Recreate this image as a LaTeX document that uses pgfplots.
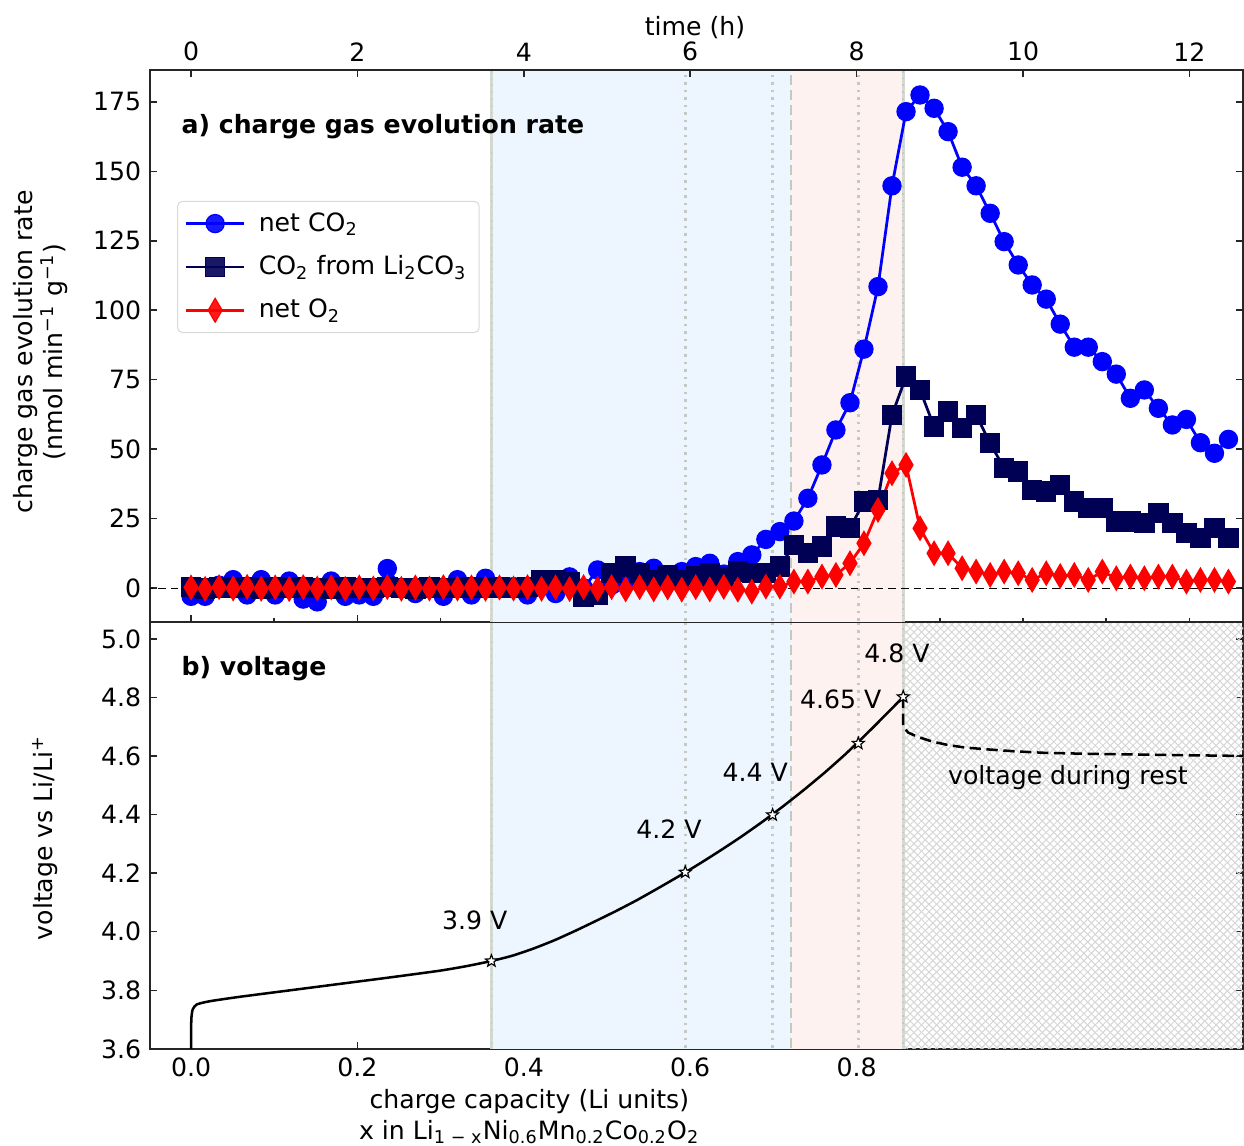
\documentclass[border=0pt]{standalone}
\usepackage{fontspec}
\setmainfont{DejaVu Sans}
\usepackage{pgfplots}
\pgfplotsset{compat=1.18}
\usepackage{pgfplotstable}
\usetikzlibrary{patterns}

\definecolor{navyc}{RGB}{0,0,85}
\definecolor{shadeblue}{RGB}{237,245,255}
\definecolor{shadered}{RGB}{254,242,240}
\definecolor{vlinec}{RGB}{212,218,210}
\definecolor{vdotc}{RGB}{196,202,194}

\pgfdeclareplotmark{ostar}{%
  \pgfpathmoveto{\pgfpointpolar{90}{\pgfplotmarksize}}%
  \pgfpathlineto{\pgfpointpolar{126}{0.42\pgfplotmarksize}}%
  \pgfpathlineto{\pgfpointpolar{162}{\pgfplotmarksize}}%
  \pgfpathlineto{\pgfpointpolar{198}{0.42\pgfplotmarksize}}%
  \pgfpathlineto{\pgfpointpolar{234}{\pgfplotmarksize}}%
  \pgfpathlineto{\pgfpointpolar{270}{0.42\pgfplotmarksize}}%
  \pgfpathlineto{\pgfpointpolar{306}{\pgfplotmarksize}}%
  \pgfpathlineto{\pgfpointpolar{342}{0.42\pgfplotmarksize}}%
  \pgfpathlineto{\pgfpointpolar{18}{\pgfplotmarksize}}%
  \pgfpathlineto{\pgfpointpolar{54}{0.42\pgfplotmarksize}}%
  \pgfpathclose
  \pgfusepathqfillstroke
}

\pgfplotstableread{
t co2 li o2
0.000 -3.0 0.3 0.2
0.169 -3.0 -0.2 -0.3
0.337 1.0 0.2 0.3
0.506 3.0 0.1 -0.2
0.674 -2.5 0.3 0.4
0.843 3.0 -0.2 -0.3
1.011 -2.5 0.2 0.2
1.180 2.5 0.0 -0.4
1.348 -4.0 0.3 0.3
1.517 -5.0 0.1 -0.2
1.685 2.5 -0.2 0.2
1.854 -3.0 0.2 -0.3
2.022 -2.5 0.1 0.2
2.191 -3.0 -0.1 -0.2
2.359 7.0 0.3 0.3
2.528 0.0 0.1 -0.3
2.696 -2.0 -0.2 0.2
2.865 0.0 0.2 -0.2
3.033 -3.0 0.1 0.3
3.202 3.0 0.0 -0.2
3.370 -2.5 0.2 0.2
3.539 3.5 -0.1 -0.3
3.707 0.0 0.2 0.2
3.876 0.5 0.0 -0.2
4.044 -2.5 0.3 0.3
4.213 0.5 2.9 -0.3
4.381 -2.0 2.9 0.2
4.550 4.0 2.0 -0.4
4.718 0.0 -3.1 0.3
4.887 6.5 -2.5 -0.3
5.055 1.0 5.3 0.3
5.224 2.0 7.7 -0.5
5.392 5.9 5.3 0.3
5.561 7.1 2.9 -0.5
5.729 4.5 4.7 0.2
5.898 5.9 2.9 -0.6
6.066 7.7 4.1 0.3
6.235 8.9 5.3 -0.5
6.403 5.0 4.0 0.4
6.572 9.5 5.9 -0.6
6.740 11.9 5.3 -1.3
6.909 17.5 5.3 0.5
7.077 20.3 7.7 0.5
7.246 24.1 15.5 2.3
7.414 32.3 12.5 2.3
7.583 44.3 14.9 4.1
7.751 56.9 22.1 4.7
7.920 66.7 21.5 8.9
8.088 86.0 31.1 16.1
8.257 108.5 31.7 28.1
8.425 144.8 62.3 41.3
8.594 171.5 76.1 44.3
8.762 177.5 71.3 21.5
8.931 172.7 58.1 12.5
9.099 164.3 63.5 12.5
9.268 151.5 57.5 7.1
9.436 144.8 62.3 5.9
9.605 134.9 52.1 4.7
9.773 124.7 43.1 5.9
9.942 116.3 41.9 5.3
10.110 109.1 35.3 2.9
10.279 104.0 34.7 5.3
10.447 95.0 37.1 4.3
10.616 86.7 31.1 4.7
10.784 86.7 28.7 2.9
10.953 81.5 28.7 5.9
11.121 77.0 23.9 3.5
11.290 68.3 23.9 4.1
11.458 71.3 23.3 3.5
11.627 64.7 26.9 4.1
11.795 58.7 23.3 4.1
11.964 60.7 19.7 2.3
12.132 52.3 17.9 2.9
12.301 48.5 21.5 2.9
12.469 53.5 17.9 2.3
}\gasdata

\pgfplotsset{
  /pgf/number format/assume math mode=true,
  every axis/.append style={
    font=\fontsize{10}{12}\selectfont,
    scale only axis,
    width=434.1pt,
    xmin=-0.4928, xmax=12.644,
    axis line style={line width=0.6pt, black!85},
    tick style={line width=0.6pt, black!85},
    major tick length=2.6pt,
    minor tick length=1.5pt,
    tick align=inside,
    clip=true,
  },
}

\begin{document}
\begin{tikzpicture}
\useasboundingbox (-59.6pt,-38.5pt) rectangle (434.5pt,416.6pt);

% ---------------- bottom axis: voltage ----------------
\begin{axis}[
  at={(0pt,0pt)}, anchor=south west,
  height=169.6pt,
  ymin=3.6, ymax=5.058,
  ytick={3.6,3.8,4.0,4.2,4.4,4.6,4.8,5.0},
  yticklabel style={/pgf/number format/fixed,/pgf/number format/fixed zerofill,/pgf/number format/precision=1},
  ytick pos=both, yticklabel pos=left,
  xtick={0,2,4,6,8},
  xticklabels={0.0,0.2,0.4,0.6,0.8},
  xtick pos=lower,
  ylabel={voltage vs Li/Li\textsuperscript{+}},
  ylabel style={at={(axis description cs:-0.096,0.494)}, anchor=center},
  xlabel={charge capacity (Li units)\\x in Li\textsubscript{1 − x}Ni\textsubscript{0.6}Mn\textsubscript{0.2}Co\textsubscript{0.2}O\textsubscript{2}},
  xlabel style={at={(axis description cs:0.347,-0.159)}, anchor=center, align=center},
]
\addplot[draw=none, fill=shadeblue, forget plot] coordinates {(3.61,3.5) (7.21,3.5) (7.21,5.2) (3.61,5.2)} -- cycle;
\addplot[draw=none, fill=shadered, forget plot] coordinates {(7.21,3.5) (8.56,3.5) (8.56,5.2) (7.21,5.2)} -- cycle;
\addplot[draw=none, pattern=north east lines, pattern color=gray!32, forget plot] coordinates {(8.56,3.5) (12.8,3.5) (12.8,5.2) (8.56,5.2)} -- cycle;
\addplot[draw=none, pattern=north west lines, pattern color=gray!32, forget plot] coordinates {(8.56,3.5) (12.8,3.5) (12.8,5.2) (8.56,5.2)} -- cycle;
% vertical guide lines
\addplot[vlinec, line width=1.3pt, forget plot] coordinates {(3.61,3.5) (3.61,5.2)};
\addplot[vdotc, dotted, line width=0.7pt, forget plot] coordinates {(3.61,3.5) (3.61,5.2)};
\addplot[vlinec, line width=1.3pt, forget plot] coordinates {(8.56,3.5) (8.56,5.2)};
\addplot[vdotc, dotted, line width=0.7pt, forget plot] coordinates {(8.56,3.5) (8.56,5.2)};
\addplot[vdotc, dotted, line width=1pt, forget plot] coordinates {(5.94,3.5) (5.94,5.2)};
\addplot[vdotc, dotted, line width=1pt, forget plot] coordinates {(6.99,3.5) (6.99,5.2)};
\addplot[vdotc, dotted, line width=1pt, forget plot] coordinates {(8.02,3.5) (8.02,5.2)};
\addplot[vdotc, dash pattern=on 4pt off 2pt, line width=1pt, forget plot] coordinates {(7.21,3.5) (7.21,5.2)};
% voltage curve
\addplot[black, line width=1pt, smooth, tension=0.35, forget plot] coordinates {
 (0.000,3.600) (0.003,3.700) (0.02,3.735) (0.07,3.752) (0.23,3.763) (0.59,3.778)
 (1.19,3.800) (1.79,3.822) (2.39,3.844) (2.99,3.867) (3.30,3.882) (3.61,3.900)
 (3.86,3.918) (4.11,3.942) (4.36,3.970) (4.61,4.002) (4.86,4.036) (5.11,4.071)
 (5.36,4.108) (5.61,4.148) (5.86,4.189) (6.11,4.232) (6.36,4.277) (6.61,4.324)
 (6.86,4.374) (7.11,4.427) (7.36,4.483) (7.61,4.542) (7.86,4.605) (8.11,4.673)
 (8.36,4.744) (8.56,4.802)};
\addplot[black, line width=1pt, dash pattern=on 4.5pt off 2.2pt, forget plot] coordinates {
 (8.56,4.802) (8.56,4.700) (8.62,4.680) (8.73,4.666) (8.90,4.650) (9.09,4.638) (9.30,4.629) (9.555,4.623)
 (9.90,4.616) (10.25,4.611) (10.70,4.608) (11.18,4.606) (11.90,4.603) (12.70,4.600)};
\addplot[only marks, mark=ostar, mark size=2.5pt, mark options={fill=white, draw=black, line width=0.45pt}, forget plot] coordinates {
 (3.61,3.900) (5.94,4.203) (6.99,4.399) (8.02,4.643) (8.56,4.802)};
\node at (axis cs:3.41,4.040) {3.9 V};
\node at (axis cs:5.745,4.351) {4.2 V};
\node at (axis cs:6.78,4.545) {4.4 V};
\node at (axis cs:7.81,4.795) {4.65 V};
\node at (axis cs:8.486,4.952) {4.8 V};
\node at (axis cs:10.54,4.528) {voltage during rest};
\node[anchor=west, inner sep=0pt, font=\fontsize{10}{12}\selectfont\bfseries] at (axis cs:-0.12,4.900) {b) voltage};
\end{axis}

% ---------------- top axis: gas evolution ----------------
\begin{axis}[
  at={(0pt,169.6pt)}, anchor=south west,
  height=219.2pt,
  ymin=-12.2, ymax=186.5,
  ytick={0,25,50,75,100,125,150,175},
  ytick pos=both, yticklabel pos=left,
  xtick={0,2,4,6,8},
  minor xtick={1,3,5,7,9,10,11,12},
  xticklabels={},
  xtick pos=lower,
  ylabel={charge gas evolution rate\\(nmol min\textsuperscript{−1} g\textsuperscript{−1})},
  ylabel style={at={(axis description cs:-0.100,0.489)}, anchor=center, align=center},
  legend style={at={(axis description cs:0.0247,0.763)}, anchor=north west,
    draw=black!15, rounded corners=2pt, fill=white, fill opacity=0.9, text opacity=1,
    font=\fontsize{10}{12}\selectfont, row sep=4.2pt, inner xsep=3pt, inner ysep=2.4pt,
    cells={anchor=west}},
  legend image code/.code={\draw[mark repeat=2,mark phase=2] plot coordinates {(0cm,0cm) (0.4cm,0cm) (0.8cm,0cm)}; \path (0.8cm+3.4pt,0cm);},
]
\addplot[draw=none, fill=shadeblue, forget plot] coordinates {(3.61,-20) (7.21,-20) (7.21,200) (3.61,200)} -- cycle;
\addplot[draw=none, fill=shadered, forget plot] coordinates {(7.21,-20) (8.56,-20) (8.56,200) (7.21,200)} -- cycle;
\addplot[vlinec, line width=1.3pt, forget plot] coordinates {(3.61,-20) (3.61,200)};
\addplot[vdotc, dotted, line width=0.7pt, forget plot] coordinates {(3.61,-20) (3.61,200)};
\addplot[vlinec, line width=1.3pt, forget plot] coordinates {(8.56,-20) (8.56,200)};
\addplot[vdotc, dotted, line width=0.7pt, forget plot] coordinates {(8.56,-20) (8.56,200)};
\addplot[vdotc, dotted, line width=1pt, forget plot] coordinates {(5.94,-20) (5.94,200)};
\addplot[vdotc, dotted, line width=1pt, forget plot] coordinates {(6.99,-20) (6.99,200)};
\addplot[vdotc, dotted, line width=1pt, forget plot] coordinates {(8.02,-20) (8.02,200)};
\addplot[vdotc, dash pattern=on 4pt off 2pt, line width=1pt, forget plot] coordinates {(7.21,-20) (7.21,200)};
\addplot[black, densely dashed, line width=0.3pt, forget plot] coordinates {(-1,0) (13,0)};
% data
\addplot[blue, line width=1.1pt, mark=*, mark size=3.6pt, mark options={solid, fill=blue, draw=blue, line width=0.5pt}] table[x=t, y=co2] {\gasdata};
\addlegendentry{net CO\textsubscript{2}}
\addplot[navyc, line width=1.1pt, mark=square*, mark size=3.8pt, mark options={solid, fill=navyc, draw=navyc, line width=0.5pt}] table[x=t, y=li] {\gasdata};
\addlegendentry{CO\textsubscript{2} from Li\textsubscript{2}CO\textsubscript{3}}
\addplot[red, line width=1.1pt, mark=diamond*, mark size=4.7pt, mark options={solid, fill=red, draw=red, line width=0.5pt, xscale=0.78}] table[x=t, y=o2] {\gasdata};
\addlegendentry{net O\textsubscript{2}}
\node[anchor=west, inner sep=0pt, font=\fontsize{10}{12}\selectfont\bfseries] at (axis cs:-0.12,166.0) {a) charge gas evolution rate};
\end{axis}

% ---------------- time axis on top ----------------
\begin{axis}[
  at={(0pt,169.6pt)}, anchor=south west,
  height=219.2pt,
  ymin=0, ymax=1,
  hide y axis,
  axis x line*=top,
  tick align=inside,
  xtick={0,2,4,6,8,10,12},
  xlabel={time (h)},
  xlabel style={at={(axis description cs:0.4986,1.077)}, anchor=center},
]
\addplot[draw=none, forget plot] coordinates {(0,0.5) (12,0.5)};
\end{axis}
\end{tikzpicture}
\end{document}
